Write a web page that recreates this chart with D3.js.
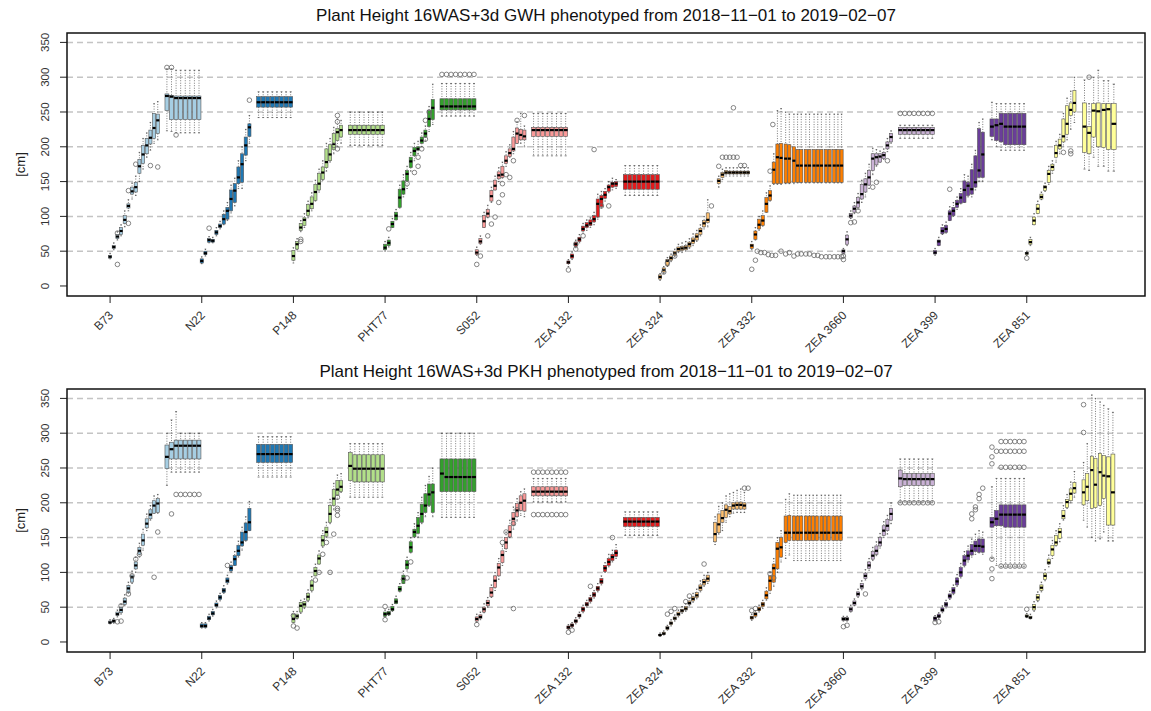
<!DOCTYPE html>
<html>
<head>
<meta charset="utf-8">
<script src="https://cdn.jsdelivr.net/npm/d3@7"></script>
<style>
  body { margin: 0; background: #fff; }
  text { font-family: "Liberation Sans", Arial, sans-serif; }
</style>
</head>
<body>
<svg id="chart" width="1151" height="711"></svg>
<script>
// genotypes in plotting order, one colour each (RColorBrewer Paired)
var genotypes = ["B73", "N22", "P148", "PHT77", "S052", "ZEA 132", "ZEA 324", "ZEA 332", "ZEA 3660", "ZEA 399", "ZEA 851"];
var colors = ["#A6CEE3", "#1F78B4", "#B2DF8A", "#33A02C", "#FB9A99", "#E31A1C", "#FDBF6F", "#FF7F00", "#CAB2D6", "#6A3D9A", "#FFFF99"];
var yTicks = [0, 50, 100, 150, 200, 250, 300, 350];
var gridValues = [50, 100, 150, 200, 250, 300, 350];
var gwhTitle = "Plant Height 16WAS+3d GWH phenotyped from 2018\u221211\u221201 to 2019\u221202\u221207";
var pkhTitle = "Plant Height 16WAS+3d PKH phenotyped from 2018\u221211\u221201 to 2019\u221202\u221207";

// each box: [t, lower whisker, q1, median, q3, upper whisker]  (t = day slot within genotype block, 0..100)
var gwhBoxes = [
  [ // B73
    [0,39,40,42,44,47],[4,52,54,56,58,62],[8,66,68,71,74,78],[12,72,74,79,84,88],[16,85,90,95,101,108],
    [20,108,112,115,118,124],[24,125,132,136,142,148],[28,130,135,142,149,158],[32,150,162,172,182,192],
    [36,168,176,189,202,212],[40,185,190,202,212,220],[44,195,204,213,224,235],[48,205,212,227,248,262],
    [52,210,219,238,247,265],
    [62,223,252,273,276,312],[67,222,239,272,274,312],[72,220,239,270,273,310],[77,220,239,270,273,310],
    [82,220,239,270,273,310],[87,220,239,270,273,310],[92,220,239,270,273,310],[97,220,239,270,273,310]
  ],
  [ // N22
    [0,32,33,36,39,42],[4,43,45,47,50,53],[8,62,63,66,68,71],[12,62,63,65,67,70],[16,72,74,77,80,84],
    [20,82,84,86,89,93],[24,88,89,96,103,108],[28,94,96,108,113,120],[32,105,108,125,138,145],
    [36,115,120,137,147,155],[40,140,147,156,171,180],[44,140,149,175,190,200],[48,180,188,202,214,225],
    [52,205,215,228,233,245],
    [62,242,257,264,272,279],[67,242,257,264,272,279],[72,242,257,264,272,279],[77,242,257,264,272,279],
    [82,242,257,264,272,279],[87,242,257,264,272,279],[92,242,257,264,272,279],[97,242,257,264,272,279]
  ],
  [ // P148
    [0,33,37,43,51,55],[4,52,53,60,64,68],[8,78,80,84,90,94],[12,84,87,95,98,104],[16,98,101,108,117,122],
    [20,108,111,118,128,134],[24,122,123,135,146,152],[28,135,138,147,162,168],[32,152,153,163,171,180],
    [36,165,170,178,197,205],[40,178,180,189,203,212],[44,190,196,204,219,228],[48,200,209,221,226,240],
    [52,205,214,224,231,238],
    [62,202,218,224,231,250],[67,202,218,224,231,250],[72,202,218,224,231,250],[77,202,218,224,231,250],
    [82,202,218,224,231,250],[87,202,218,224,231,250],[92,202,218,224,231,250],[97,202,218,224,231,250]
  ],
  [ // PHT77
    [0,50,52,55,60,64],[4,56,58,62,66,70],[8,84,84,89,93,97],[12,95,95,101,106,110],[16,112,113,127,139,145],
    [20,128,132,139,151,160],[24,140,151,161,166,172],[28,165,170,179,185,192],[32,180,187,194,199,205],
    [36,190,195,197,200,208],[40,200,205,209,214,220],[44,208,214,219,224,230],[48,222,229,240,252,258],
    [52,232,239,256,268,290],
    [62,244,253,258,269,291],[67,244,253,258,269,291],[72,244,253,258,269,291],[77,244,253,258,269,291],
    [82,244,253,258,269,291],[87,244,253,258,269,291],[92,244,253,258,269,291],[97,244,253,258,269,291]
  ],
  [ // S052
    [0,44,45,48,52,56],[4,60,61,64,68,72],[8,84,84,93,101,106],[12,98,99,104,110,116],[16,120,122,129,137,142],
    [20,138,138,144,152,158],[24,150,154,159,164,170],[28,155,156,160,172,178],[32,172,176,180,187,193],
    [36,185,186,191,197,203],[40,190,194,197,214,222],[44,205,205,219,227,236],[48,205,210,217,225,248],
    [52,200,210,215,224,230],
    [62,187,215,224,228,248],[67,187,215,224,228,248],[72,187,215,224,228,248],[77,187,215,224,228,248],
    [82,187,215,224,228,248],[87,187,215,224,228,248],[92,187,215,224,228,248],[97,187,215,224,228,248]
  ],
  [ // ZEA 132
    [0,28,32,34,36,38],[4,38,40,43,46,49],[8,55,57,60,63,66],[12,62,64,67,70,74],[16,76,79,82,86,90],
    [20,80,84,87,91,95],[24,84,87,90,95,98],[28,88,92,96,101,106],[32,96,99,118,125,132],
    [36,112,114,125,130,136],[40,122,126,131,136,140],[44,134,136,142,145,150],[48,138,142,147,149,155],
    [52,140,143,147,150,153],
    [62,130,139,150,160,173],[67,130,139,150,160,173],[72,130,139,150,160,173],[77,130,139,150,160,173],
    [82,130,139,150,160,173],[87,130,139,150,160,173],[92,130,139,150,160,173],[97,130,139,150,160,173]
  ],
  [ // ZEA 324
    [0,8,10,13,16,18],[4,18,20,23,26,28],[8,28,29,36,38,41],[12,35,37,40,43,46],[16,42,44,47,50,53],
    [20,48,50,53,56,60],[24,48,51,54,57,62],[28,50,52,55,58,64],[32,54,56,60,63,68],[36,58,61,65,69,75],
    [40,64,66,71,75,80],[44,72,74,79,83,88],[48,82,85,90,94,100],[52,85,91,95,105,124],
    [64,142,147,151,154,158],[68,153,156,160,163,168],[72,158,161,163,166,170],[76,158,161,163,165,170],
    [80,158,161,163,165,170],[84,158,161,163,165,170],[88,158,161,163,165,170],[92,158,161,163,165,170],
    [96,158,161,163,165,170]
  ],
  [ // ZEA 332
    [0,52,54,58,60,64],[4,66,67,74,79,84],[8,80,82,88,96,100],[12,86,87,94,101,108],[16,106,106,118,127,134],
    [20,122,123,130,137,144],[24,146,147,167,178,190],
    [28,146,147,185,204,252],[32,146,147,184,205,255],[37,147,148,183,204,250],[41,147,148,183,203,247],
    [46,147,149,180,200,247],[50,148,149,173,196,247],[54,148,149,173,196,247],[59,148,149,173,196,247],
    [63,148,149,173,196,247],[68,148,149,173,196,247],[72,148,149,173,196,247],[76,148,149,173,196,247],
    [81,148,149,173,196,247],[85,148,149,173,196,247],[90,148,149,173,196,247],[94,148,149,173,196,247],
    [98,148,149,173,196,247]
  ],
  [ // ZEA 3660
    [0,46,47,50,52,54],[4,58,60,67,73,78],[8,97,98,101,104,108],[12,104,106,111,115,120],[16,110,113,120,127,133],
    [20,120,125,132,146,152],[24,128,135,146,154,162],[28,140,145,156,166,175],[32,160,166,183,190,198],
    [36,172,174,185,190,196],[40,178,178,186,190,194],[44,182,183,188,192,197],[48,193,197,202,207,212],
    [52,205,207,214,219,223],
    [62,212,218,224,228,231],[67,212,218,224,228,231],[72,212,218,224,228,231],[77,212,218,224,228,231],
    [82,212,218,224,228,231],[87,212,218,224,228,231],[92,212,218,224,228,231],[97,212,218,224,228,231]
  ],
  [ // ZEA 399
    [0,44,46,48,51,54],[4,58,58,64,66,70],[8,74,75,79,84,88],[12,76,77,82,87,92],[16,94,94,104,108,114],
    [20,100,101,108,113,120],[24,110,113,118,123,128],[28,118,119,127,133,140],[32,120,120,138,151,160],
    [36,128,130,144,149,158],[40,128,132,139,167,175],[44,138,142,149,187,195],[48,150,156,166,226,235],
    [52,150,156,189,221,240],
    [62,210,215,229,240,264],[67,200,209,231,240,262],[72,195,207,233,248,262],[77,195,203,229,248,262],
    [82,195,203,229,248,262],[87,195,203,229,248,262],[92,195,203,229,248,262],[97,195,203,229,248,262]
  ],
  [ // ZEA 851
    [0,44,45,47,48,50],[4,58,60,63,67,70],[8,88,88,94,99,104],[12,104,104,111,117,122],[16,124,125,128,132,135],
    [20,136,137,142,144,148],[24,146,149,161,166,172],[28,162,166,171,175,180],[32,178,185,191,202,208],
    [36,190,197,202,211,218],[40,200,207,215,240,248],[44,210,218,233,259,270],[48,225,245,253,263,280],
    [52,235,250,263,281,300],
    [63,168,192,229,263,296],[68,166,190,220,229,262],[73,185,214,252,262,300],[78,172,200,251,263,310],
    [84,172,199,253,262,295],[89,165,196,254,262,295],[95,165,196,233,262,290]
  ]
];

// outliers: [genotype index, t, value]
var gwhOutliers = [
  [0,8,31],[0,8,76],[0,20,90],[0,20,137],[0,28,175],[0,44,173],[0,52,171],[0,62,314],[0,67,314],[0,72,217],
  [1,8,83],[1,52,267],
  [2,8,67],[2,8,64],[2,44,202],[2,48,245],[2,48,236],[2,48,197],
  [3,4,82],[3,24,147],[3,32,163],[3,36,185],[3,36,172],[3,40,197],[3,44,211],[3,44,238],[3,48,250],
  [3,62,304],[3,67,304],[3,72,304],[3,77,304],[3,82,304],[3,87,304],[3,92,304],[3,97,304],
  [4,0,31],[4,4,43],[4,12,72],[4,16,89],[4,20,99],[4,24,120],[4,28,131],[4,28,147],[4,32,160],[4,36,156],
  [4,40,180],[4,44,238],[4,52,245],
  [5,0,23],[5,8,53],[5,8,60],[5,16,72],[5,28,196],[5,36,115],[5,44,115],
  [6,4,20],[6,8,33],[6,16,43],[6,56,115],[6,64,172],[6,68,185],[6,72,185],[6,76,185],[6,80,185],[6,84,185],
  [6,80,256],[6,88,173],[6,92,173],
  [7,0,24],[7,4,37],[7,20,165],[7,23,232],[7,6,50],[7,10,48],[7,14,48],[7,18,45],[7,22,44],[7,26,44],
  [7,32,50],[7,37,46],[7,41,48],[7,46,43],[7,50,46],[7,54,46],[7,59,46],[7,63,46],[7,68,44],[7,72,44],
  [7,76,42],[7,81,42],[7,85,42],[7,90,42],[7,94,42],[7,98,42],
  [8,0,43],[8,0,38],[8,8,91],[8,12,92],[8,16,108],[8,32,142],[8,36,149],[8,48,180],
  [8,62,248],[8,67,248],[8,72,248],[8,77,248],[8,82,248],[8,87,248],[8,92,248],[8,97,248],
  [9,16,139],
  [10,0,40],[10,40,192],[10,48,190],[10,48,194],[10,68,300]
];

var pkhBoxes = [
  [ // B73
    [0,26,27,28,30,32],[4,27,28,30,32,34],[8,36,38,40,43,46],[12,40,42,46,50,54],[16,52,54,58,63,68],
    [20,70,71,77,81,86],[24,84,86,93,96,102],[28,100,105,110,115,122],[32,122,126,131,136,142],
    [36,132,139,146,155,162],[40,160,164,170,177,184],[44,175,177,183,190,196],[48,185,185,196,203,210],
    [52,185,186,199,206,212],
    [62,225,249,266,283,300],[67,244,263,277,287,319],[72,244,263,282,290,331],[77,244,263,282,290,300],
    [82,244,263,282,290,300],[87,244,263,282,290,300],[92,244,263,282,290,300],[97,244,263,282,290,300]
  ],
  [ // N22
    [0,20,21,23,26,28],[4,20,21,23,26,28],[8,30,32,34,37,40],[12,37,39,41,44,47],[16,49,51,53,56,59],
    [20,59,61,64,67,70],[24,70,71,74,77,81],[28,83,85,88,92,96],[32,100,102,106,110,115],
    [36,110,110,119,124,130],[40,122,124,131,139,145],[44,132,138,143,158,165],[48,145,146,158,171,180],
    [52,160,160,172,192,202],
    [62,237,258,270,284,295],[67,237,258,270,284,295],[72,237,258,270,284,295],[77,237,258,270,284,295],
    [82,237,258,270,284,295],[87,237,258,270,284,295],[92,237,258,270,284,295],[97,237,258,270,284,295]
  ],
  [ // P148
    [0,28,28,33,40,44],[4,33,34,37,40,44],[8,41,43,52,57,60],[12,48,50,54,58,62],[16,58,60,65,70,75],
    [20,72,74,81,88,94],[24,95,95,102,107,112],[28,112,112,120,125,131],[32,136,138,146,153,160],
    [36,150,152,158,165,172],[40,170,172,184,196,205],[44,190,196,206,219,228],[48,205,211,219,232,240],
    [52,215,216,223,232,242],
    [62,208,232,253,272,285],[67,208,230,249,269,285],[72,208,230,249,269,285],[77,208,230,249,269,285],
    [82,208,230,249,269,285],[87,208,230,249,269,285],[92,208,230,249,269,285],[97,208,230,249,269,285]
  ],
  [ // PHT77
    [0,36,37,40,43,46],[4,38,39,41,44,47],[8,44,45,47,51,54],[12,55,55,58,62,66],[16,72,73,76,80,84],
    [20,84,84,91,96,102],[24,102,105,111,117,122],[28,128,129,136,144,150],[32,150,151,158,162,170],
    [36,150,156,167,179,186],[40,170,172,184,198,208],[44,180,186,196,213,225],[48,195,196,212,227,238],
    [52,180,186,215,227,250],
    [62,179,216,242,263,300],[67,179,216,237,263,300],[72,179,216,237,263,300],[77,179,216,237,263,300],
    [82,179,216,237,263,300],[87,179,216,237,263,300],[92,179,216,237,263,300],[97,179,216,237,263,300]
  ],
  [ // S052
    [0,28,30,33,36,40],[4,32,34,36,39,43],[8,42,43,47,50,55],[12,50,52,56,60,64],[16,64,65,71,78,82],
    [20,74,78,88,95,100],[24,90,95,107,113,120],[28,110,114,125,131,138],[32,130,134,143,150,158],
    [36,150,151,158,167,175],[40,162,168,177,186,194],[44,174,180,189,199,206],[48,182,189,200,210,216],
    [52,180,188,203,213,220],
    [62,201,210,216,223,235],[67,201,210,216,223,235],[72,201,210,216,223,235],[77,201,210,216,223,235],
    [82,201,210,216,223,235],[87,201,210,216,223,235],[92,201,210,216,223,235],[97,201,210,216,223,235]
  ],
  [ // ZEA 132
    [0,18,19,21,23,25],[4,21,22,24,26,28],[8,26,28,30,32,35],[12,34,36,38,40,43],[16,42,44,47,50,53],
    [20,50,52,54,57,60],[24,56,58,61,64,67],[28,63,65,68,71,74],[32,72,74,77,80,84],[36,82,84,87,91,95],
    [40,100,101,106,110,114],[44,108,110,115,120,126],[48,115,117,122,126,132],[52,120,123,128,132,140],
    [62,153,166,173,179,187],[67,153,166,173,179,187],[72,153,166,173,179,187],[77,153,166,173,179,187],
    [82,153,166,173,179,187],[87,153,166,173,179,187],[92,153,166,173,179,187],[97,153,166,173,179,187]
  ],
  [ // ZEA 324
    [0,8,9,10,11,13],[4,10,11,12,14,16],[8,17,18,20,22,24],[12,23,25,27,29,32],[16,30,32,34,36,39],
    [20,36,38,40,43,46],[24,41,43,45,47,51],[28,44,46,48,51,55],[32,52,54,56,59,63],[36,57,59,62,65,70],
    [40,62,64,67,71,76],[44,72,74,78,82,88],[48,80,82,86,90,96],[52,84,87,91,96,100],
    [60,140,144,155,172,180],[64,155,157,169,184,195],[68,160,172,178,189,200],[72,172,179,190,197,210],
    [76,180,184,188,195,213],[80,185,191,196,200,215],[84,186,191,197,201,218],[88,186,191,197,201,220],
    [92,186,191,196,200,215]
  ],
  [ // ZEA 332
    [0,31,33,35,37,40],[4,35,37,40,42,45],[8,43,45,47,50,53],[12,48,51,54,57,60],[16,60,62,67,73,78],
    [20,70,74,88,95,100],[24,80,86,106,112,120],[28,100,105,134,143,150],[32,115,122,136,150,160],
    [37,120,143,157,181,205],[41,125,146,157,182,213],[46,117,146,157,181,211],[50,117,146,157,181,211],
    [54,117,146,157,181,211],[59,117,146,157,181,211],[63,117,146,157,181,211],[67,117,146,157,181,211],
    [71,117,146,157,181,211],[76,117,146,157,181,211],[80,117,146,157,181,211],[84,117,146,157,181,211],
    [89,117,146,157,181,211],[93,117,146,157,181,211],[97,117,146,157,181,211]
  ],
  [ // ZEA 3660
    [0,30,31,33,35,37],[4,30,31,33,35,37],[8,43,44,47,50,53],[12,52,53,56,59,62],[16,64,66,69,72,76],
    [20,75,77,80,84,88],[24,89,91,95,99,104],[28,103,106,110,115,120],[32,117,119,124,130,136],
    [36,124,126,131,138,144],[40,135,138,143,150,156],[44,150,153,160,167,173],[48,155,160,167,176,182],
    [52,170,175,184,192,200],
    [62,201,223,235,247,263],[67,201,225,234,242,263],[72,201,225,234,242,263],[77,201,225,234,242,263],
    [82,201,225,234,242,263],[87,201,225,234,242,263],[92,201,225,234,242,263],[97,201,225,234,242,263]
  ],
  [ // ZEA 399
    [0,30,31,34,36,38],[4,33,35,37,40,42],[8,42,44,46,49,52],[12,49,51,54,57,60],[16,61,63,66,69,73],
    [20,68,70,74,78,82],[24,80,82,87,92,97],[28,92,94,100,107,113],[32,108,110,117,124,130],
    [36,115,118,124,131,138],[40,122,125,131,140,148],[44,126,130,138,145,155],[48,128,129,138,148,160],
    [52,126,129,137,148,158],
    [62,120,165,172,179,223],[67,110,167,177,189,235],[72,108,167,183,197,235],[77,108,165,183,197,235],
    [82,108,165,183,197,235],[87,108,165,183,197,235],[92,108,165,183,197,235],[97,108,165,183,197,235]
  ],
  [ // ZEA 851
    [0,35,36,37,39,41],[4,33,34,35,37,40],[8,44,46,50,54,58],[12,58,60,64,68,72],[16,72,74,78,82,86],
    [20,88,90,95,99,104],[24,108,112,114,119,125],[28,120,124,133,139,146],[32,138,139,143,153,160],
    [36,144,149,158,163,170],[40,175,177,181,189,196],[44,192,193,201,205,212],[48,200,203,213,220,230],
    [52,208,214,221,229,245],
    [62,175,197,215,233,258],[66,165,203,223,242,285],[71,150,192,247,267,355],[75,145,193,226,264,350],
    [80,148,196,244,271,345],[84,158,206,239,268,340],[89,145,168,238,266,335],[94,145,168,215,270,330]
  ]
];

var pkhOutliers = [
  [0,8,29],[0,12,30],[0,12,52],[0,20,69],[0,24,95],[0,28,119],[0,32,126],[0,48,93],[0,52,158],[0,67,184],
  [0,77,212],[0,82,212],[0,87,212],[0,92,212],[0,97,212],[0,72,212],
  [1,28,110],
  [2,0,38],[2,0,23],[2,4,20],[2,24,89],[2,28,100],[2,32,126],[2,36,143],[2,40,100],[2,44,155],[2,48,182],
  [2,48,189],[2,48,192],[2,48,208],
  [3,0,51],[3,0,32],[3,20,90],[3,24,92],[3,28,115],
  [4,0,25],[4,40,48],[4,28,143],[4,32,158],[4,40,170],[4,44,190],
  [4,62,244],[4,67,244],[4,72,244],[4,77,244],[4,82,244],[4,87,244],[4,92,244],[4,97,244],
  [4,62,183],[4,67,183],[4,72,183],[4,77,183],[4,82,183],[4,87,183],[4,92,183],[4,97,183],
  [5,0,14],[5,4,17],[5,24,80],[5,48,150],
  [6,8,40],[6,12,44],[6,16,48],[6,28,58],[6,32,66],[6,48,112],[6,92,221],[6,96,221],
  [7,0,45],[7,4,48],[7,20,98],[7,24,92],
  [8,0,22],[8,4,24],[8,24,69],
  [8,62,200],[8,67,200],[8,72,200],[8,77,200],[8,82,200],[8,87,200],[8,92,200],[8,97,200],
  [9,0,28],[9,4,29],[9,40,177],[9,40,184],[9,44,194],[9,44,190],[9,48,212],[9,48,206],[9,52,221],
  [9,62,280],[9,62,266],[9,62,256],[9,62,119],[9,62,105],[9,62,91],
  [9,72,288],[9,77,288],[9,82,288],[9,87,288],[9,92,288],[9,97,288],
  [9,67,274],[9,72,274],[9,77,274],[9,82,274],[9,87,274],[9,92,274],[9,97,274],
  [9,72,251],[9,77,251],[9,82,251],[9,87,251],[9,92,251],[9,97,251],
  [9,72,109],[9,77,109],[9,82,109],[9,87,109],[9,92,109],[9,97,109],
  [10,0,47],[10,62,341],[10,62,301]
];

var svg = d3.select("#chart");

// shared x scale: genotype g block starts at g*100
var x = d3.scaleLinear().domain([-47, 1129]).range([67, 1145]);

function drawPanel(top, title, boxes, outliers) {
  var left = 67, right = 1145, bottom = top + 263;
  var y = d3.scaleLinear().domain([-14.4, 363.5]).range([bottom, top]);
  var g = svg.append("g");

  // dashed grid
  g.selectAll("line.grid")
    .data(gridValues)
    .enter().append("line")
    .attr("x1", left).attr("x2", right)
    .attr("y1", function(d) { return y(d); })
    .attr("y2", function(d) { return y(d); })
    .attr("stroke", "#c4c4c4")
    .attr("stroke-width", 1.5)
    .attr("stroke-dasharray", "6,4");

  // title
  g.append("text")
    .attr("x", (left + right) / 2).attr("y", top - 12)
    .attr("text-anchor", "middle")
    .attr("font-size", 17)
    .attr("fill", "#111")
    .text(title);

  // y axis
  var yAxis = g.append("g");
  yAxis.selectAll("line")
    .data(yTicks)
    .enter().append("line")
    .attr("x1", left - 7).attr("x2", left)
    .attr("y1", function(d) { return y(d); })
    .attr("y2", function(d) { return y(d); })
    .attr("stroke", "#222");
  yAxis.selectAll("text")
    .data(yTicks)
    .enter().append("text")
    .attr("transform", function(d) { return "translate(" + (left - 18) + "," + y(d) + ") rotate(-90)"; })
    .attr("text-anchor", "middle")
    .attr("font-size", 11.5)
    .attr("fill", "#333")
    .text(function(d) { return d; });
  g.append("text")
    .attr("transform", "translate(25," + ((top + bottom) / 2) + ") rotate(-90)")
    .attr("text-anchor", "middle")
    .attr("font-size", 13)
    .attr("fill", "#222")
    .text("[cm]");

  // x axis
  var xAxis = g.append("g");
  xAxis.selectAll("line")
    .data(genotypes)
    .enter().append("line")
    .attr("x1", function(d, i) { return x(i * 100); })
    .attr("x2", function(d, i) { return x(i * 100); })
    .attr("y1", bottom).attr("y2", bottom + 7)
    .attr("stroke", "#222");
  xAxis.selectAll("text")
    .data(genotypes)
    .enter().append("text")
    .attr("transform", function(d, i) { return "translate(" + (x(i * 100) + 4) + "," + (bottom + 20) + ") rotate(-45)"; })
    .attr("text-anchor", "end")
    .attr("font-size", 12)
    .attr("fill", "#333")
    .text(function(d) { return d; });

  // boxes
  boxes.forEach(function(list, gi) {
    var base = gi * 100;
    list.forEach(function(b, k) {
      var prev = k > 0 ? list[k - 1][0] : null;
      var next = k < list.length - 1 ? list[k + 1][0] : null;
      var gap = Math.min(prev === null ? 99 : b[0] - prev, next === null ? 99 : next - b[0]);
      if (gap > 6) gap = 5;
      var w = (x(gap) - x(0)) * 0.85;
      var cx = x(base + b[0]);
      var bg = g.append("g");
      // whiskers (dotted)
      bg.append("line")
        .attr("x1", cx).attr("x2", cx)
        .attr("y1", y(b[5])).attr("y2", y(b[4]))
        .attr("stroke", "#222").attr("stroke-width", 0.6).attr("stroke-dasharray", "1,1.5");
      bg.append("line")
        .attr("x1", cx).attr("x2", cx)
        .attr("y1", y(b[2])).attr("y2", y(b[1]))
        .attr("stroke", "#222").attr("stroke-width", 0.6).attr("stroke-dasharray", "1,1.5");
      [b[1], b[5]].forEach(function(v) {
        bg.append("line")
          .attr("x1", cx - w / 4).attr("x2", cx + w / 4)
          .attr("y1", y(v)).attr("y2", y(v))
          .attr("stroke", "#222").attr("stroke-width", 0.6);
      });
      bg.append("rect")
        .attr("x", cx - w / 2).attr("width", w)
        .attr("y", y(b[4])).attr("height", Math.max(y(b[2]) - y(b[4]), 1.5))
        .attr("fill", colors[gi])
        .attr("stroke", "#555").attr("stroke-width", 0.6);
      bg.append("line")
        .attr("x1", cx - w / 2).attr("x2", cx + w / 2)
        .attr("y1", y(b[3])).attr("y2", y(b[3]))
        .attr("stroke", "#000").attr("stroke-width", 2.2);
    });
  });

  // outliers
  g.selectAll("circle.out")
    .data(outliers)
    .enter().append("circle")
    .attr("cx", function(d) { return x(d[0] * 100 + d[1]); })
    .attr("cy", function(d) { return y(d[2]); })
    .attr("r", 2.3)
    .attr("fill", "none")
    .attr("stroke", "#666")
    .attr("stroke-width", 0.8);

  // frame
  g.append("rect")
    .attr("x", left).attr("y", top)
    .attr("width", right - left).attr("height", bottom - top)
    .attr("fill", "none")
    .attr("stroke", "#111")
    .attr("stroke-width", 1.5);
}

drawPanel(33, gwhTitle, gwhBoxes, gwhOutliers);
drawPanel(389, pkhTitle, pkhBoxes, pkhOutliers);
</script>
</body>
</html>
